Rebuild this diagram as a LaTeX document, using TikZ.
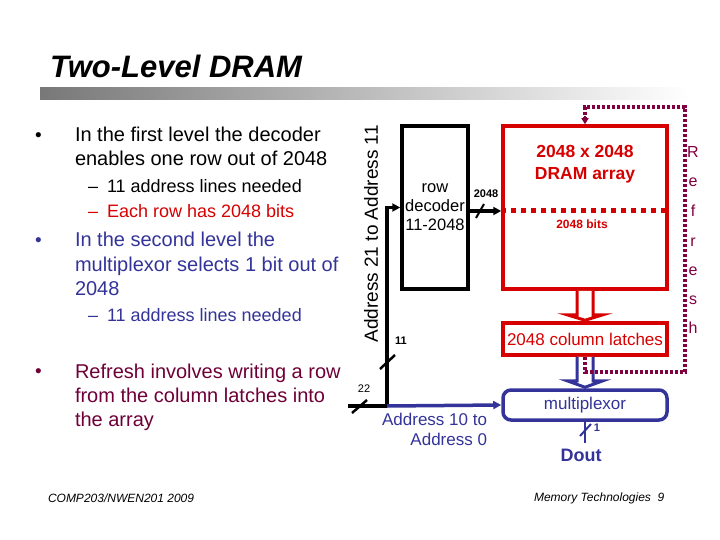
\documentclass[tikz,border=0pt]{standalone}
\usepackage{fontspec}
\setmainfont{Liberation Sans}
\usetikzlibrary{arrows.meta,calc}
\definecolor{dblue}{RGB}{51,51,153}
\definecolor{dred}{RGB}{214,0,0}
\definecolor{mymaroon}{RGB}{110,0,55}
\definecolor{refc}{RGB}{128,0,64}
\definecolor{bargray}{RGB}{120,120,120}
\begin{document}
\begin{tikzpicture}[x=1pt,y=-1pt,
  txt/.style={inner sep=0pt, outer sep=0pt, anchor=base west},
  ctr/.style={inner sep=0pt, outer sep=0pt},
  f20/.style={font=\fontsize{20}{24}\selectfont},
  f18/.style={font=\fontsize{18}{22}\selectfont},
  f17/.style={font=\fontsize{17}{20}\selectfont},
  fbul/.style={font=\fontsize{19}{22}\selectfont},
  fsm/.style={font=\fontsize{11}{13}\selectfont},
  boxline/.style={line width=3.5pt},
  blk/.style={line width=3.5pt, black},
  blu/.style={line width=3.5pt, dblue},
  tip/.style={-{Triangle[length=8pt,width=8pt]}},
  refline/.style={line width=3.5pt, refc, dash pattern=on 3pt off 2pt},
  hollow/.style={line width=3pt, fill=white, line join=miter}
]
\useasboundingbox (0,0) rectangle (720,540);

% title and bar
\node[txt, font=\fontsize{31}{36}\selectfont\bfseries\itshape] (title) at (50,78) {Two-Level DRAM};
\shade[left color=bargray, middle color=bargray!30, right color=white] (40,88) rectangle (690,100);

% left bullets
\node[txt,fbul] (b1) at (35,141.5) {•};
\node[txt,f20] (l1a) at (75,142) {In the first level the decoder};
\node[txt,f20] (l1b) at (75,166) {enables one row out of 2048};
\node[txt,f18] (d1) at (88,192.5) {–};
\node[txt,f18] (s1a) at (107,192.5) {11 address lines needed};
\node[txt,f18,dred] (d2) at (88,217.5) {–};
\node[txt,f18,dred] (s1b) at (107,217.5) {Each row has 2048 bits};
\node[txt,fbul,dblue] (b2) at (35,246.5) {•};
\node[txt,f20,dblue] (l2a) at (75,247) {In the second level the};
\node[txt,f20,dblue] (l2b) at (75,271) {multiplexor selects 1 bit out of};
\node[txt,f20,dblue] (l2c) at (75,295) {2048};
\node[txt,f18,dblue] (d3) at (88,321.5) {–};
\node[txt,f18,dblue] (s2a) at (107,321.5) {11 address lines needed};
\node[txt,fbul,mymaroon] (b3) at (35,377.5) {•};
\node[txt,f20,mymaroon] (l3a) at (75,378) {Refresh involves writing a row};
\node[txt,f20,mymaroon] (l3b) at (75,402) {from the column latches into};
\node[txt,f20,mymaroon] (l3c) at (75,426) {the array};

% footer
\node[txt, font=\fontsize{12}{14}\selectfont\itshape] (foot1) at (48,502) {COMP203/NWEN201 2009};
\node[txt, font=\fontsize{12}{14}\selectfont\itshape] (foot2) at (534,501) {Memory Technologies\ \ 9};

% rotated address label
\node[ctr, rotate=90, font=\fontsize{19}{22}\selectfont] (addrhi) at (371,234) {Address 21 to Address 11};

% row decoder
\node[draw, boxline, minimum width=66pt, minimum height=163pt, inner sep=0pt,
      align=center, font=\fontsize{16.5}{19}\selectfont] (dec) at (435,207.5) {row\\decoder\\11-2048};

% DRAM array
\node[draw=dred, boxline, minimum width=164pt, minimum height=163pt, inner sep=0pt] (ar) at (585,207.5) {};
\node[ctr, dred, align=center, font=\fontsize{17.5}{22}\selectfont\bfseries] (artitle) at (585,164) {2048 x 2048\\DRAM array};
\node[ctr, dred, font=\fontsize{12}{14}\selectfont\bfseries] (bits) at (582,224) {2048 bits};
\draw[dred, line width=5pt, dash pattern=on 5pt off 5pt] ([yshift=-3.5pt]ar.west) -- ([yshift=-3.5pt]ar.east);

% latches
\node[draw=dred, boxline, minimum width=164pt, minimum height=32pt, inner sep=0pt,
      text=dred, f17] (lat) at (585,339) {2048 column latches};

% multiplexor
\node[draw=dblue, boxline, rounded corners=8pt, minimum width=164pt, minimum height=30pt, inner sep=0pt,
      text=dblue, f17] (mux) at (585,405) {multiplexor};

% hollow arrows
\draw[hollow, draw=dred] ($(ar.south)+(-8,0)$) -- ++(0,24) -- ++(-10,0) -- ($(lat.north)+(0,-1)$) -- ($(ar.south)+(18,24)$) -- ++(-10,0) -- ($(ar.south)+(8,0)$);
\draw[hollow, draw=dblue] ($(lat.south)+(-8,0)$) -- ++(0,24) -- ++(-10,0) -- ($(mux.north)+(0,-1)$) -- ($(lat.south)+(18,24)$) -- ++(-10,0) -- ($(lat.south)+(8,0)$);

% refresh loop
\coordinate (rbot) at (685,372);
\coordinate (rtop) at (685,107);
\draw[refline] (lat.south) |- (rbot) -- (rtop) -| ([yshift=6pt]ar.north);
\draw[refc, line width=2pt, -{Triangle[length=6pt,width=7pt]}] ([yshift=8pt]ar.north) -- (ar.north);
\foreach \l/\yy [count=\i] in {R/158, e/187, f/216, r/246, e/275, s/304, h/333}
  \node[txt, anchor=base, refc, font=\fontsize{16}{19}\selectfont] (rf\i) at (693,\yy) {\l};

% decoder to array
\draw[blk, tip] ([yshift=-3.5pt]dec.east) -- ([yshift=-3.5pt]ar.west);
\draw[black, line width=2pt] (476,218) -- (484,204);
\node[ctr, font=\fontsize{11}{13}\selectfont\bfseries] (lbl2048) at (486,194) {2048};

% address lines
\coordinate (j) at (387,406);
\coordinate (lin) at (348,406);
\draw[blk, tip] (j) |- (dec.west);
\draw[blk] (lin) -- (j);
\draw[blu, tip] (j) -- (mux.west);
\draw[black, line width=2.5pt] (380,369) -- (395,355);
\node[ctr, font=\fontsize{11}{13}\selectfont\bfseries] (lbl11) at (401,341) {11};
\draw[black, line width=2.5pt] (352,413) -- (367,400);
\node[ctr, fsm] (lbl22) at (364,389) {22};
\node[ctr, anchor=east, dblue, f17] (alo1) at (487,419) {Address 10 to};
\node[ctr, anchor=east, dblue, f17] (alo2) at (487,439) {Address 0};

% output
\coordinate (dout) at (585,443);
\draw[dblue, line width=2pt] (mux.south) -- (dout);
\draw[dblue, line width=2pt] (580,436) -- (591,424);
\node[ctr, dblue, font=\fontsize{11}{13}\selectfont\bfseries] (lbl1) at (597,428) {1};
\node[ctr, dblue, font=\fontsize{18}{21}\selectfont\bfseries] (doutl) at (581,455) {Dout};
\end{tikzpicture}
\end{document}
